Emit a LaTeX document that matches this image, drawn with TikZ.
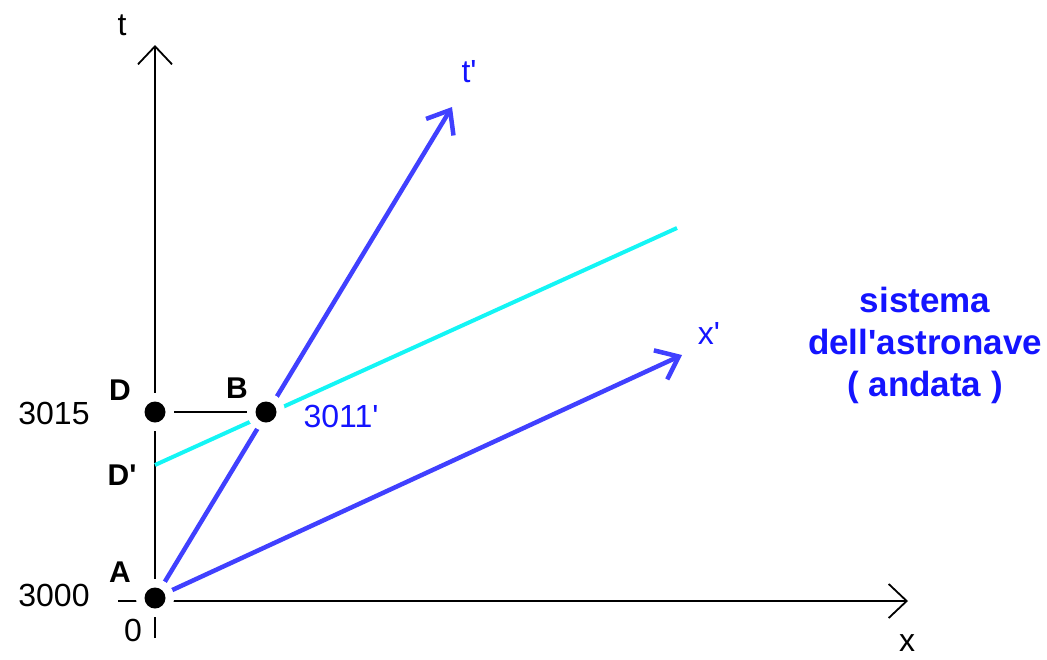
\documentclass[tikz,border=0pt]{standalone}
\usepackage{fontspec}
\setmainfont{Liberation Sans}[Ligatures=TeXOff]
\usetikzlibrary{arrows.meta}
\definecolor{lineblue}{RGB}{64,64,255}
\definecolor{textblue}{RGB}{20,20,255}
\definecolor{lcyan}{RGB}{20,245,245}
\tikzset{
  axis/.style={line width=1.8pt, black},
  axarrow/.style={-{Straight Barb[length=18pt,width=34pt,line width=1.8pt]}},
  frame/.style={line width=4.5pt, lineblue, -{Straight Barb[length=20pt,width=32pt,line width=4.5pt]}},
  simul/.style={line width=4pt, lcyan},
  halo/.style={circle, fill=white, minimum size=38pt, inner sep=0pt},
  dot/.style={circle, fill=black, minimum size=21pt, inner sep=0pt},
  lbl/.style={font=\fontsize{32}{38}\selectfont, inner sep=0pt},
  blbl/.style={font=\fontsize{30}{36}\selectfont\bfseries, inner sep=0pt},
  bluelbl/.style={lbl, text=textblue},
}
\begin{document}
\begin{tikzpicture}[x=1pt,y=-1pt]
\useasboundingbox (0,0) rectangle (1047,659);
% coordinates
\coordinate (A) at (155,598);
\coordinate (D) at (155,412);
\coordinate (B) at (266,412);
\coordinate (Dp) at (155,465);
\coordinate (tbot) at (155,638);
\coordinate (ttop) at (155,45);
\coordinate (xleft) at (118,601);
\coordinate (xright) at (908,601);
\coordinate (tptip) at (452,107);
\coordinate (xptip) at (682,355);
\coordinate (cyanend) at (677,228);
% axes
\draw[axis,axarrow] (tbot) -- (ttop);
\draw[axis,axarrow] (xleft) -- (xright);
\draw[axis] (D) -- (B);
% moving frame
\draw[simul] (Dp) -- (cyanend);
\draw[frame] (A) -- (tptip);
\draw[frame] (A) -- (xptip);
% halos and dots
\node[halo] (hA) at (A) {};
\node[halo] (hD) at (D) {};
\node[halo] (hB) at (B) {};
\node[dot] (dA) at (A) {};
\node[dot] (dD) at (D) {};
\node[dot] (dB) at (B) {};
% labels
\node[lbl] (lt) at (122,25) {t};
\node[lbl] (lx) at (907,643) {x};
\node[bluelbl] (ltp) at (469,72) {t'};
\node[bluelbl] (lxp) at (709,333) {x'};
\node[lbl] (l3015) at (54,413) {3015};
\node[lbl] (l3000) at (54,595) {3000};
\node[lbl] (l0) at (133,630) {0};
\node[blbl] (lD) at (120,390) {D};
\node[blbl] (lB) at (237,388) {B};
\node[blbl] (lDp) at (122,475) {D'};
\node[blbl] (lA) at (120,572) {A};
\node[bluelbl] (l3011) at (341,416) {3011'};
\node[font=\fontsize{35}{42}\selectfont\bfseries, text=textblue, align=center, inner sep=0pt] (sys) at (925,345) {sistema\\dell'astronave\\( andata )};
\end{tikzpicture}
\end{document}
